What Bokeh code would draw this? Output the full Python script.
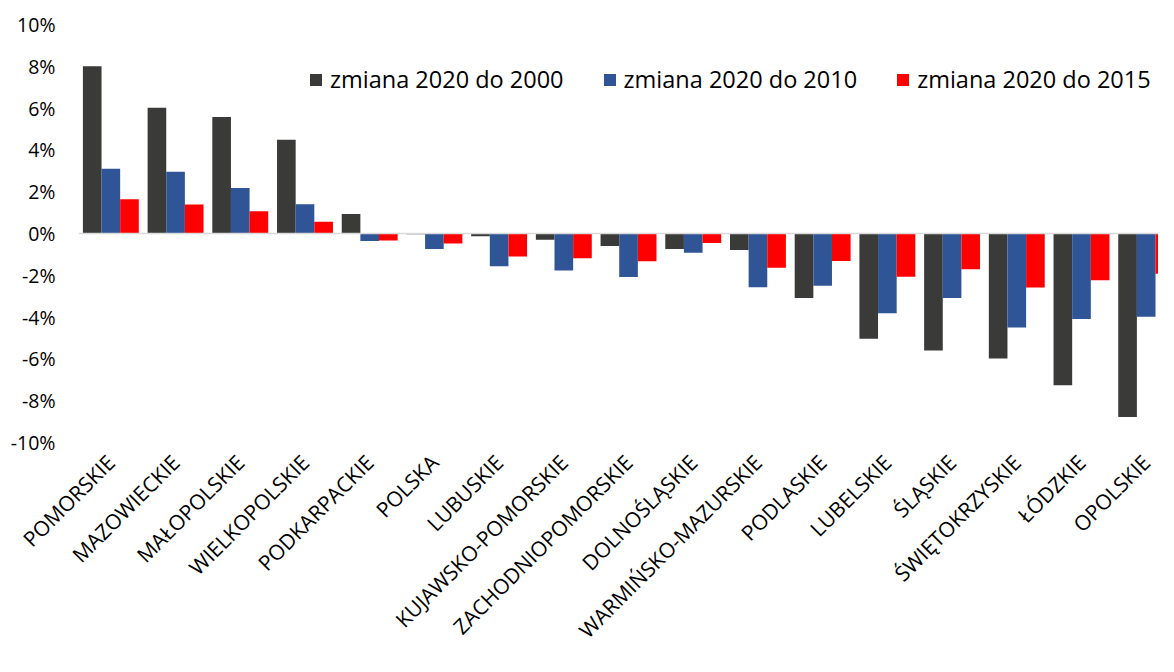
import numpy as np
from bokeh.plotting import figure
from bokeh.models import Range1d, FixedTicker, Span, Legend
from bokeh.embed import file_html
from bokeh.resources import INLINE

regions = ["POMORSKIE", "MAZOWIECKIE", "MAŁOPOLSKIE", "WIELKOPOLSKIE", "PODKARPACKIE",
           "POLSKA", "LUBUSKIE", "KUJAWSKO-POMORSKIE", "ZACHODNIOPOMORSKIE", "DOLNOŚLĄSKIE",
           "WARMIŃSKO-MAZURSKIE", "PODLASKIE", "LUBELSKIE", "ŚLĄSKIE", "ŚWIĘTOKRZYSKIE",
           "ŁÓDZKIE", "OPOLSKIE"]
change_2000 = [8.0, 6.02, 5.58, 4.48, 0.93, -0.03, -0.13, -0.30, -0.60, -0.74, -0.79,
               -3.09, -5.04, -5.60, -5.98, -7.26, -8.78]
change_2010 = [3.10, 2.96, 2.18, 1.40, -0.36, -0.74, -1.57, -1.77, -2.08, -0.92, -2.57,
               -2.50, -3.82, -3.09, -4.50, -4.09, -3.98]
change_2015 = [1.64, 1.39, 1.07, 0.56, -0.34, -0.48, -1.10, -1.18, -1.33, -0.45, -1.64,
               -1.31, -2.07, -1.71, -2.58, -2.24, -1.93]
series_names = ["zmiana 2020 do 2000", "zmiana 2020 do 2010", "zmiana 2020 do 2015"]
y_ticks = [-10, -8, -6, -4, -2, 0, 2, 4, 6, 8, 10]

colors = ["#3a3a38", "#2f5597", "#ff0000"]
FONT = "Open Sans"

p = figure(width=1158, height=656, output_backend="svg", toolbar_location=None,
           x_range=Range1d(-0.5, 16.19), y_range=Range1d(-10, 10),
           min_border_left=78, min_border_right=0, min_border_top=24, min_border_bottom=212)
p.outline_line_color = None
p.xgrid.visible = False
p.ygrid.visible = False

idx = np.arange(len(regions))
bw = 0.288
legend_items = []
for k, (vals, name, col) in enumerate(zip([change_2000, change_2010, change_2015], series_names, colors)):
    r = p.vbar(x=idx + (k - 1) * bw, top=vals, bottom=0, width=bw, fill_color=col, line_color=None)
    legend_items.append((name, [r]))

p.add_layout(Span(location=0, dimension="width", line_color="#d9d9d9", line_width=1.5))

# y axis
p.yaxis.ticker = FixedTicker(ticks=y_ticks)
p.yaxis.major_label_overrides = {v: f"{v}%" for v in y_ticks}
p.yaxis.axis_line_color = None
p.yaxis.major_tick_line_color = None
p.yaxis.minor_tick_line_color = None
p.yaxis.major_tick_out = 0
p.yaxis.major_tick_in = 0
p.yaxis.major_label_standoff = 23
p.yaxis.major_label_text_font = FONT
p.yaxis.major_label_text_font_size = "19.5px"
p.yaxis.major_label_text_color = "#000000"

# x axis
p.xaxis.ticker = FixedTicker(ticks=list(idx))
p.xaxis.major_label_overrides = {int(i): n for i, n in enumerate(regions)}
p.xaxis.major_label_orientation = np.pi / 4
p.xaxis.axis_line_color = None
p.xaxis.major_tick_line_color = None
p.xaxis.minor_tick_line_color = None
p.xaxis.major_tick_out = 0
p.xaxis.major_tick_in = 0
p.xaxis.major_label_standoff = 16
p.xaxis.major_label_text_font = FONT
p.xaxis.major_label_text_font_size = "21px"
p.xaxis.major_label_text_color = "#000000"

legend = Legend(items=legend_items, orientation="horizontal", location=(230, 347),
                border_line_color=None, background_fill_alpha=0, padding=0, margin=0,
                spacing=38, glyph_width=15, glyph_height=15, label_standoff=7,
                label_text_font=FONT, label_text_font_size="23.5px", label_text_color="#000000")
p.add_layout(legend)

open("out.html", "w").write(file_html(p, INLINE))
